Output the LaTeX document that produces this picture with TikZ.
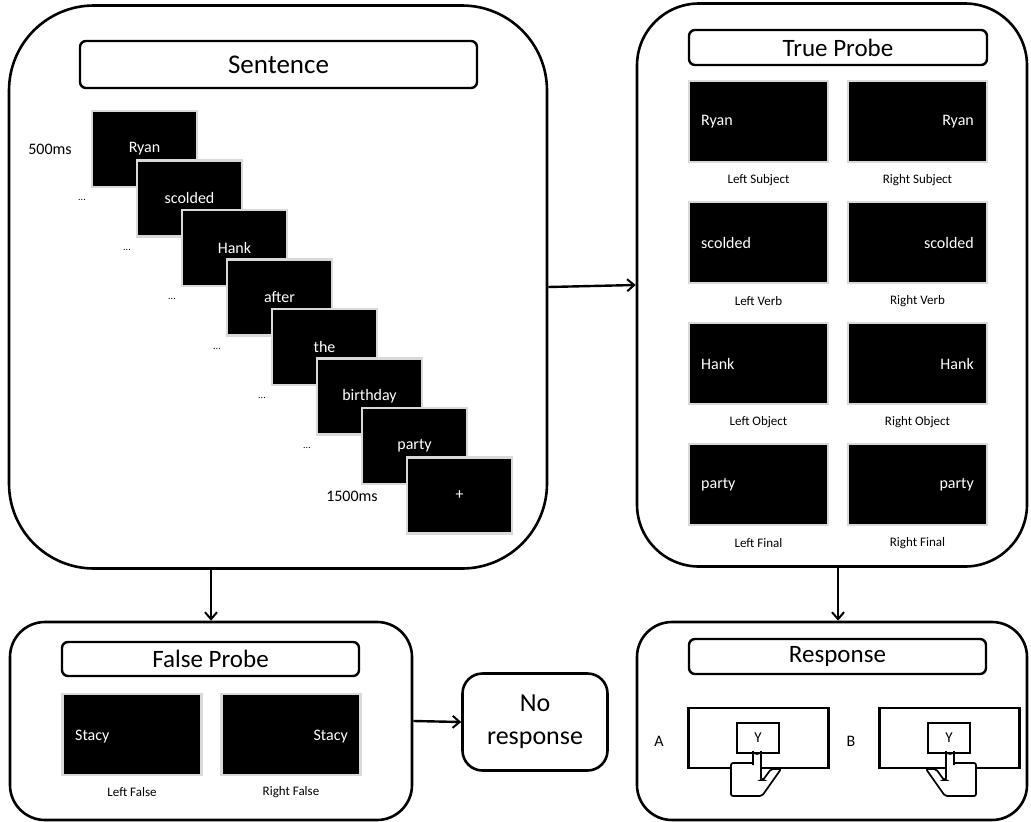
\documentclass[tikz,border=0pt]{standalone}
\usepackage{fontspec}
\setmainfont{Carlito}
\usetikzlibrary{arrows.meta}
\tikzset{
	panel/.style={draw, line width=2.6pt, fill=white, rounded corners=#1},
	titlebar/.style={draw, line width=2.4pt, fill=white, rounded corners=6pt, font=\fontsize{#1}{#1}\selectfont},
	screen/.style={draw=black!15, line width=2.6pt, fill=black, text=white, minimum width=105pt, minimum height=76pt, inner sep=0pt, font=\fontsize{16}{16}\selectfont},
	probe/.style={draw=black!15, line width=2.6pt, fill=black, minimum width=139pt, minimum height=81pt, inner sep=0pt},
	word/.style={text=white, inner sep=0pt, font=\fontsize{16}{16}\selectfont},
	caption/.style={inner sep=0pt, font=\fontsize{13}{13}\selectfont},
	side/.style={inner sep=0pt, font=\fontsize{16}{16}\selectfont},
	keybox/.style={draw, line width=2.4pt, fill=white},
	flow/.style={-{Straight Barb[length=7pt,width=12pt,line width=2pt]}, line width=2.4pt},
	keyhand/.pic={
		\draw[line width=1.7pt, fill=white, rounded corners=2pt] (-4,17) -- (-4,2) arc[start angle=180, end angle=0, radius=4] -- (4,32) -- (6,32) -- (14,21) -- (24,21) -- (5,48) -- (-26,48) -- (-26,15) -- (-4,15);
	}
}
\begin{document}
\begin{tikzpicture}[x=1pt, y=-1pt]
	\useasboundingbox (0,0) rectangle (1031,822);
	% panels
	\node[panel=85pt, minimum width=538pt, minimum height=563pt] (sentence) at (278,287) {};
	\node[panel=62pt, minimum width=390pt, minimum height=563pt] (trueprobe) at (832,285) {};
	\node[panel=35pt, minimum width=402pt, minimum height=198pt] (falseprobe) at (211,721) {};
	\node[panel=35pt, minimum width=390pt, minimum height=198pt] (response) at (832,721) {};
	\node[panel=20pt, minimum width=145pt, minimum height=97pt, align=center, font=\fontsize{26}{33}\selectfont] (noresponse) at (535,722) {No\\response};
	% titles
	\node[titlebar=27, minimum width=397pt, minimum height=47pt] (sentencetitle) at (278.5,64.5) {Sentence};
	\node[titlebar=25, minimum width=298pt, minimum height=35pt] (truetitle) at (838,47.5) {True Probe};
	\node[titlebar=25, minimum width=297pt, minimum height=34pt] (falsetitle) at (210.5,659) {False Probe};
	\node[titlebar=25, minimum width=297pt, minimum height=35pt] (responsetitle) at (837.5,656.5) {Response};
	% sentence sequence
	\foreach \i/\w in {0/Ryan, 1/scolded, 2/Hank, 3/after, 4/the, 5/birthday, 6/party, 7/+}
		\node[screen] (frame\i) at (144.5+45*\i,149+49.5*\i) {\w};
	\node[side] (firsttime) at (50,149) {500ms};
	\node[side] (lasttime) at (352,496) {1500ms};
	\foreach \i in {0,...,5}
		\node[inner sep=0pt] (dots\i) at (82+45*\i,200+49.5*\i) {...};
	% true probes
	\foreach \r/\w/\a in {0/Ryan/Subject, 1/scolded/Verb, 2/Hank/Object, 3/party/Final} {
		\node[probe] (left\r) at (758.5,121.5+121*\r) {};
		\node[probe] (right\r) at (917.5,121.5+121*\r) {};
		\node[word, anchor=west] (leftword\r) at (701,121.5+121*\r) {\w};
		\node[word, anchor=east] (rightword\r) at (974,121.5+121*\r) {\w};
		\node[caption] (leftcap\r) at (758.5,180+121*\r) {Left \a};
		\node[caption] (rightcap\r) at (917.5,180+121*\r) {Right \a};
	}
	% false probes
	\node[probe] (leftfalse) at (132,734.5) {};
	\node[probe] (rightfalse) at (291,734.5) {};
	\node[word, anchor=west] (leftstacy) at (75,737) {Stacy};
	\node[word, anchor=east] (rightstacy) at (348,737) {Stacy};
	\node[caption] (leftfalsecap) at (132,792) {Left False};
	\node[caption] (rightfalsecap) at (291,792) {Right False};
	% response keys
	\node[side] (keya) at (659,741) {A};
	\node[side] (keyb) at (851,741) {B};
	\node[keybox, minimum width=140pt, minimum height=60pt] (screena) at (758.5,738) {};
	\node[keybox, minimum width=140pt, minimum height=60pt] (screenb) at (949.5,738) {};
	\node[keybox, minimum width=42pt, minimum height=30pt, inner sep=0pt, font=\fontsize{15}{15}\selectfont] (ykeya) at (758,738) {Y};
	\node[keybox, minimum width=42pt, minimum height=30pt, inner sep=0pt, font=\fontsize{15}{15}\selectfont] (ykeyb) at (949,738) {Y};
	\pic at (757,748) {keyhand};
	\pic[xscale=-1] at (950,748) {keyhand};
	% arrows
	\draw[flow] (sentence.east) -- (trueprobe.west);
	\draw[flow] (sentence.south -| falseprobe.north) -- (falseprobe.north);
	\draw[flow] ([xshift=6pt]trueprobe.south) -- ([xshift=6pt]response.north);
	\draw[flow] (falseprobe.east) -- (noresponse.west);
\end{tikzpicture}
\end{document}
